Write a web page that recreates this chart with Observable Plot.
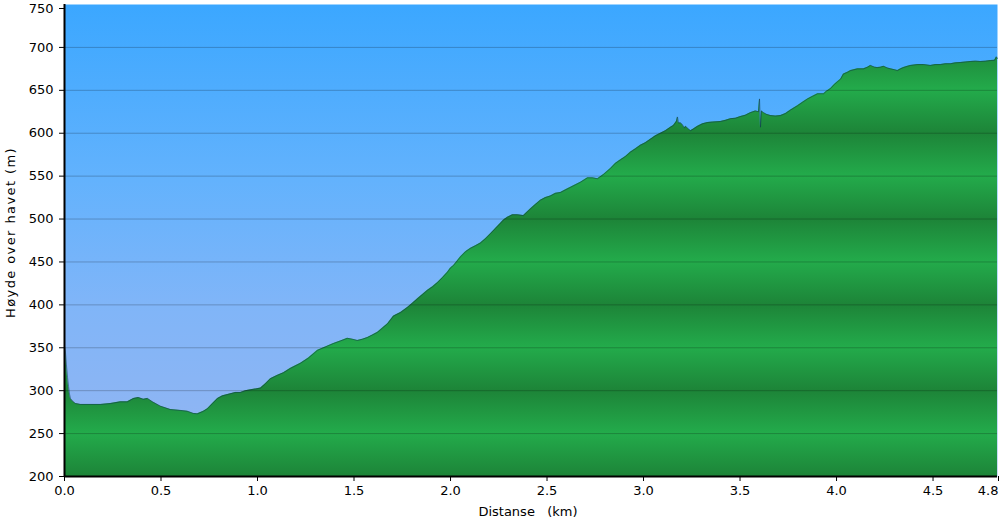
<!DOCTYPE html>
<html>
<head>
<meta charset="utf-8">
<script src="https://cdn.jsdelivr.net/npm/d3@7"></script>
<script src="https://cdn.jsdelivr.net/npm/@observablehq/plot@0.6"></script>
<style>
  html, body { margin: 0; padding: 0; background: #fff; }
  svg { display: block; }
</style>
</head>
<body>
<div id="chart"></div>
<script>
// Distance along the route (km)
const distanceKm = [
  0.000, 0.005, 0.010, 0.016, 0.021, 0.026, 0.031, 0.041, 0.057, 0.083,
  0.135, 0.187, 0.238, 0.290, 0.326, 0.358, 0.383, 0.409, 0.430, 0.456,
  0.497, 0.549, 0.601, 0.637, 0.668, 0.689, 0.720, 0.741, 0.767, 0.793,
  0.819, 0.845, 0.886, 0.912, 0.938, 0.964, 1.016, 1.041, 1.067, 1.104,
  1.135, 1.171, 1.223, 1.264, 1.311, 1.352, 1.394, 1.430, 1.466, 1.492,
  1.518, 1.544, 1.570, 1.596, 1.622, 1.648, 1.674, 1.705, 1.741, 1.777,
  1.803, 1.829, 1.855, 1.881, 1.907, 1.933, 1.959, 1.984, 2.000, 2.016,
  2.052, 2.078, 2.104, 2.130, 2.155, 2.181, 2.207, 2.233, 2.259, 2.275,
  2.295, 2.321, 2.347, 2.378, 2.415, 2.440, 2.466, 2.492, 2.518, 2.544,
  2.570, 2.596, 2.622, 2.648, 2.674, 2.710, 2.736, 2.762, 2.793, 2.829,
  2.855, 2.881, 2.907, 2.933, 2.959, 2.984, 3.010, 3.036, 3.062, 3.088,
  3.114, 3.140, 3.155, 3.171, 3.176, 3.181, 3.192, 3.202, 3.212, 3.218,
  3.233, 3.244, 3.259, 3.280, 3.306, 3.332, 3.358, 3.399, 3.425, 3.451,
  3.477, 3.503, 3.528, 3.554, 3.580, 3.596, 3.601, 3.606, 3.611, 3.622,
  3.637, 3.658, 3.684, 3.710, 3.736, 3.762, 3.798, 3.824, 3.850, 3.876,
  3.902, 3.933, 3.948, 3.969, 3.990, 4.005, 4.021, 4.036, 4.057, 4.073,
  4.109, 4.140, 4.161, 4.176, 4.197, 4.212, 4.228, 4.244, 4.264, 4.280,
  4.301, 4.316, 4.332, 4.347, 4.368, 4.383, 4.420, 4.451, 4.487, 4.513,
  4.539, 4.565, 4.591, 4.617, 4.642, 4.668, 4.694, 4.720, 4.746, 4.772,
  4.798, 4.819, 4.829, 4.834
];

// Elevation above sea level (m)
const elevationM = [
  352, 345, 330, 315, 305, 296, 291, 288, 285, 284,
  284, 284, 285, 287, 287, 291, 292, 290, 291, 287,
  282, 278, 277, 276, 273.5, 273, 276, 279, 285, 291,
  294, 295.5, 298, 298, 300, 301, 303, 308, 314, 318,
  321, 326, 332, 338, 347, 351, 355, 358, 361, 360,
  358.5, 360, 362, 365, 368, 373, 378, 387, 391, 397,
  402, 407, 412, 417, 421, 426, 432, 438, 443, 446,
  456, 462, 466, 469, 472, 477, 483, 489, 495, 499,
  502, 505, 505, 504, 512, 517, 522, 525, 527, 530,
  531, 534, 537, 540, 543, 548, 548, 547, 552, 559,
  565, 569, 573, 578, 582, 586, 589, 593, 597, 600,
  603, 607, 609, 614, 619, 612, 612, 610, 606, 608,
  605, 603, 605, 608, 611, 612.5, 613, 613.7, 615, 617,
  617.5, 619.5, 621, 624, 626, 625, 640, 607, 626, 624,
  622, 620.6, 620, 620.6, 623, 627, 632, 636, 640, 643,
  646, 646, 649, 652, 657, 660, 663, 669, 671, 673,
  675, 675, 677, 679, 677, 676.5, 677, 678, 676, 675,
  674, 673, 675, 676.5, 678, 679, 680, 680, 679, 680,
  680, 681, 681, 682, 682.4, 683, 683.6, 684, 683.6, 684,
  684.7, 685, 689, 687
];

const xTicks = [0, 0.5, 1.0, 1.5, 2.0, 2.5, 3.0, 3.5, 4.0, 4.5];
const xEndTick = [4.834];
const yTicks = [200, 250, 300, 350, 400, 450, 500, 550, 600, 650, 700, 750];
const xLabel = "Distanse   (km)";
const yLabel = "Høyde over havet (m)";

const profile = distanceKm.map((d, i) => ({km: d, m: elevationM[i]}));

const font = "'DejaVu Sans', Verdana, sans-serif";
const fmt = d => d.toFixed(1);

const plot = Plot.plot({
  width: 1000,
  height: 525,
  marginLeft: 64,
  marginRight: 3,
  marginTop: 4,
  marginBottom: 49,
  style: {fontFamily: font, fontSize: "13px", color: "#000", background: "#fff", overflow: "visible"},
  x: {domain: [0, 4.834]},
  y: {domain: [200, 750]},
  marks: [
    Plot.frame({fill: "url(#skyGrad)", stroke: "none"}),
    Plot.areaY(profile, {x: "km", y1: 200, y2: "m", fill: "url(#groundGrad)", curve: "linear"}),
    Plot.lineY(profile, {x: "km", y: "m", stroke: "#0e3a4c", strokeOpacity: 0.55, strokeWidth: 1}),
    Plot.ruleY(yTicks.slice(1, -1), {stroke: "#000", strokeOpacity: 0.22, strokeWidth: 1}),
    Plot.axisY(yTicks.slice(0, -1), {tickSize: 5, tickPadding: 6, label: null, fontSize: 13}),
    Plot.axisY(yTicks.slice(-1), {tickSize: 5, tickPadding: 6, label: null, fontSize: 13, dy: 4}),
    Plot.axisX(xTicks, {tickSize: 5, tickPadding: 4, label: null, fontSize: 13, tickFormat: fmt}),
    Plot.axisX(xEndTick, {tickSize: 5, tickPadding: 4, label: null, fontSize: 13, tickFormat: fmt, textAnchor: "end", dx: 1}),
    Plot.ruleX([0], {stroke: "#000", strokeWidth: 2}),
    Plot.ruleY([200], {stroke: "#000", strokeWidth: 2}),
    Plot.text([xLabel], {frameAnchor: "bottom", dy: 35, fontSize: 13, text: d => d, lineAnchor: "middle", textAnchor: "middle", dx: -3}),
    Plot.text([yLabel], {frameAnchor: "left", dx: -54, dy: -8, rotate: -90, fontSize: 13, text: d => d, lineAnchor: "middle", textAnchor: "middle"})
  ]
});

// Gradients positioned with the plot's own y scale
const yScale = plot.scale("y");
const svgNS = "http://www.w3.org/2000/svg";
const svg = plot.tagName.toLowerCase() === "svg" ? plot : plot.querySelector("svg");
const defs = document.createElementNS(svgNS, "defs");

function addGradient(id, stops) {
  const g = document.createElementNS(svgNS, "linearGradient");
  g.setAttribute("id", id);
  g.setAttribute("gradientUnits", "userSpaceOnUse");
  const y0 = yScale.apply(750), y1 = yScale.apply(200);
  g.setAttribute("x1", 0); g.setAttribute("x2", 0);
  g.setAttribute("y1", y0); g.setAttribute("y2", y1);
  for (const [v, c] of stops) {
    const s = document.createElementNS(svgNS, "stop");
    s.setAttribute("offset", (yScale.apply(v) - y0) / (y1 - y0));
    s.setAttribute("stop-color", c);
    g.appendChild(s);
  }
  defs.appendChild(g);
}

addGradient("skyGrad", [[750, "#3ba7ff"], [550, "#62b2fd"], [400, "#80b5f8"], [200, "#95b5f1"]]);
addGradient("groundGrad", yTicks.slice().reverse().map(v => [v, (v % 100 === 0) ? "#1d8438" : "#23ab4b"]));
svg.insertBefore(defs, svg.firstChild);

// widen the vertical title's letter spacing to match the reference
svg.querySelectorAll("text").forEach(t => {
  if (t.textContent === yLabel) t.setAttribute("letter-spacing", "1.4");
});

document.getElementById("chart").appendChild(plot);
</script>
</body>
</html>
